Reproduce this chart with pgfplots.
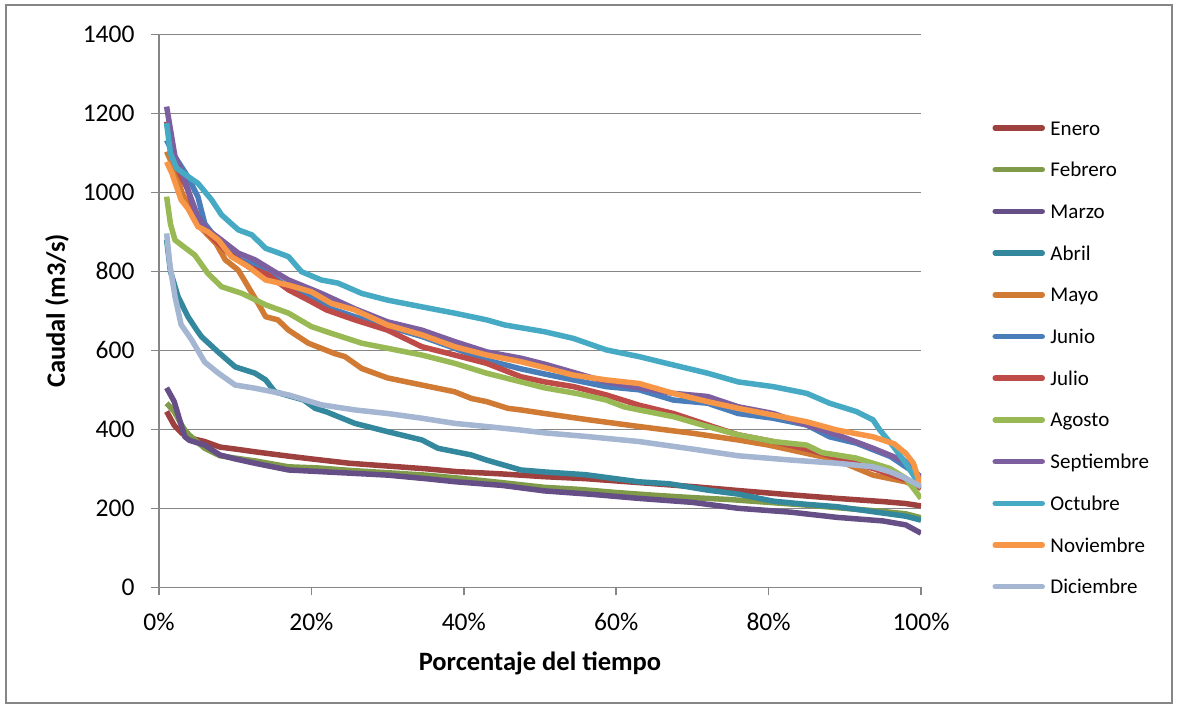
\documentclass[border=0pt]{standalone}
\usepackage{fontspec}
\setmainfont{Carlito}
\usepackage{pgfplots}
\pgfplotsset{compat=1.18}
\definecolor{gridgray}{HTML}{868686}
\definecolor{cEne}{HTML}{9E413E}
\definecolor{cFeb}{HTML}{7F9A48}
\definecolor{cMar}{HTML}{664E86}
\definecolor{cAbr}{HTML}{33889E}
\definecolor{cMay}{HTML}{D07A33}
\definecolor{cJun}{HTML}{4A7EBB}
\definecolor{cJul}{HTML}{BE4B48}
\definecolor{cAgo}{HTML}{98B954}
\definecolor{cSep}{HTML}{7D5FA0}
\definecolor{cOct}{HTML}{46AAC5}
\definecolor{cNov}{HTML}{F79646}
\definecolor{cDic}{HTML}{A5B6D3}
\begin{document}
\begin{tikzpicture}
\path[use as bounding box] (0,0) rectangle (1177pt,708pt);
\draw[line width=1.2pt, color=gridgray] (6pt,5pt) rectangle (1172pt,703pt);
\begin{axis}[
  at={(159pt,120.7pt)}, anchor=south west,
  scale only axis, width=762pt, height=553pt,
  xmin=0, xmax=100, ymin=0, ymax=1400,
  axis x line*=bottom, axis y line*=left,
  xtick={0,20,40,60,80,100},
  xticklabels={0\%,20\%,40\%,60\%,80\%,100\%},
  ytick={0,200,400,600,800,1000,1200,1400},
  yticklabels={0,200,400,600,800,1000,1200,1400},
  tick align=outside, major tick length=8pt,
  tick style={color=gridgray, line width=1.5pt},
  axis line style={color=gridgray, line width=1.5pt},
  ymajorgrids, major grid style={color=gridgray, line width=1.5pt},
  ticklabel style={font=\fontsize{25.5}{30}\selectfont},
  yticklabel style={xshift=-13pt},
  xticklabel style={yshift=-14pt},
  /pgf/number format/assume math mode=true,
  every axis plot/.append style={line width=5.5pt, line join=round, no markers},
  legend cell align=left,
  legend image code/.code={\draw[#1, line width=5.5pt, line cap=round] (0pt,0pt) -- (47pt,0pt);},
  legend style={at={(1.0938,0.4158)}, anchor=west, draw=none, fill=none,
    inner sep=0pt, outer sep=0pt, font=\fontsize{21}{25}\selectfont,
    row sep=17.7pt, /tikz/column sep=5.5pt,
    nodes={inner sep=0pt, text height=19pt, text depth=5pt}},
]
\addplot[cEne] coordinates {(1,445)(2,410)(3,390)(4,378)(6,369)(8,355)(10,350)(12.6,343)(17,332)(20,325)(25,314)(30,307)(35,300)(39,293)(45,287)(50.6,280)(56,275)(63,265)(70,255)(76,245)(83,234)(89,225)(95,217)(98,212)(100,206)};
\addlegendentry{Enero}
\addplot[cFeb] coordinates {(1,466)(2,445)(3,410)(3.4,398)(4,385)(6,352)(8,333)(10,327)(12.6,320)(17,305)(21,302)(25,296)(30,290)(35,284)(39,277)(45,265)(50.6,253)(55,248)(60,240)(65,233)(70,227)(75,222)(80,215)(85,208)(90,200)(95,192)(98,186)(100,176)};
\addlegendentry{Febrero}
\addplot[cMar] coordinates {(1,505)(2,470)(3,405)(3.4,381)(4,372)(6,360)(8,335)(10,325)(12.6,314)(17,297)(21,293)(25,289)(30,284)(35,275)(39,267)(45,258)(50.6,244)(57,235)(63,225)(70,215)(76,200)(83,190)(89,177)(95,168)(98,158)(100,137)};
\addlegendentry{Marzo}
\addplot[cAbr] coordinates {(1,880)(1.5,800)(2.5,736)(3.8,685)(5,650)(5.6,634)(7.8,595)(10,558)(12.6,542)(14,525)(15.2,495)(19,474)(20.5,453)(22,444)(25.7,415)(30,394)(34.5,373)(36.6,352)(41,335)(43,322)(47.5,297)(50.6,292)(56,285)(63,267)(67,262)(72,246)(76,236)(80.6,218)(85,210)(89,204)(95,188)(98,180)(100,170)};
\addlegendentry{Abril}
\addplot[cMay] coordinates {(1,1103)(2,1060)(3,1000)(4,960)(5,920)(6,900)(7.5,870)(8.7,829)(10.4,803)(11.7,761)(13,719)(14,685)(15.6,677)(17,651)(19.6,618)(23,592)(24.4,584)(26.6,554)(30,530)(34.5,512)(38.8,495)(41,478)(43,470)(45.8,453)(47.5,449)(50.6,440)(56,425)(63,407)(70,390)(76,373)(80,360)(85,339)(89,322)(93.7,284)(98,267)(100,251)};
\addlegendentry{Mayo}
\addplot[cJun] coordinates {(1,1132)(2.1,1090)(3.8,1039)(5.1,989)(6,921)(7.3,888)(9,860)(10.5,830)(12.6,815)(15,785)(17,760)(20,735)(22.6,705)(25.7,685)(30,660)(34.5,635)(38.8,605)(43,575)(47.5,553)(50.6,540)(54.4,525)(58.7,508)(63,500)(67.5,474)(72,466)(76,440)(80.6,428)(85,411)(88,381)(91.5,365)(96,331)(98,305)(100,280)};
\addlegendentry{Junio}
\addplot[cJul] coordinates {(1,1179)(1.5,1120)(2.5,1056)(3.8,1006)(5.1,921)(6.9,888)(9.1,846)(11.7,812)(14.3,791)(17,753)(19.6,727)(22,702)(25.7,677)(30,651)(34.5,609)(38.8,588)(43,567)(47.5,533)(50.6,520)(54.4,508)(58.7,487)(63,461)(67.5,440)(72,411)(76,386)(80.6,369)(85,350)(89,327)(93.7,301)(98,272)(100,251)};
\addlegendentry{Julio}
\addplot[cAgo] coordinates {(1,989)(1.5,920)(2.1,879)(4.7,841)(6.4,795)(8.2,761)(10.9,744)(14,715)(17,694)(20,660)(22.6,643)(26.6,618)(30,605)(34.5,588)(38.8,567)(43,542)(47.5,520)(50.6,505)(55,490)(58.7,474)(61,457)(63,449)(67.5,432)(72,407)(76,386)(80.6,369)(85,360)(87,341)(91.5,327)(95.9,301)(98,276)(100,225)};
\addlegendentry{Agosto}
\addplot[cSep] coordinates {(1,1217)(2.1,1090)(2.9,1057)(3.8,1006)(5.1,938)(6.4,905)(8.2,879)(10.4,846)(12.6,829)(14.8,803)(17,778)(21.3,744)(25.7,705)(30,672)(34.5,651)(38.8,622)(43,596)(47.5,580)(50.6,565)(58.7,520)(63,505)(67.5,491)(72,483)(76,457)(80.6,440)(85,411)(89,386)(93.7,352)(98,318)(100,276)};
\addlegendentry{Septiembre}
\addplot[cOct] coordinates {(1,1175)(1.5,1099)(2.3,1061)(3.8,1040)(5.1,1023)(6.9,981)(8.2,943)(10.4,905)(12.2,892)(14,858)(15.2,850)(17,837)(18.7,799)(21.3,778)(23.5,770)(26.6,744)(30,727)(34.5,710)(38.8,694)(43,677)(45.4,664)(50.6,647)(54.4,630)(58.7,601)(63,584)(66.6,567)(72,542)(76,520)(80.6,508)(85,491)(88,466)(91.5,445)(93.7,424)(94.6,398)(96.4,356)(98,314)(100,254)};
\addlegendentry{Octubre}
\addplot[cNov] coordinates {(1,1077)(1.7,1048)(2.9,981)(3.8,959)(5.1,913)(6.4,900)(7.8,879)(9.5,837)(11.7,812)(14,778)(17,765)(20,748)(22.6,719)(25.7,702)(30,664)(34.5,639)(38.8,609)(43,588)(47.5,571)(50.6,556)(54.4,537)(58.7,525)(63,516)(67.5,491)(72,470)(76,453)(80.6,436)(85,419)(89,398)(93.7,381)(96.5,363)(98,339)(99,314)(100,255)};
\addlegendentry{Noviembre}
\addplot[cDic] coordinates {(1,896)(1.4,820)(2.1,736)(2.9,665)(4.3,626)(6,570)(7.8,542)(10,512)(12.6,504)(17,487)(21.3,462)(25.7,449)(30,440)(34.5,428)(38.8,415)(43,407)(47.5,398)(50.6,391)(56,382)(63,369)(70,350)(76,333)(83,322)(89,314)(93.7,305)(96,292)(98,276)(100,255)};
\addlegendentry{Diciembre}
\end{axis}
\node[font=\bfseries\fontsize{26.5}{31}\selectfont] at (540pt,45pt) {Porcentaje del tiempo};
\node[font=\bfseries\fontsize{26.5}{31}\selectfont, rotate=90] at (57pt,397pt) {Caudal (m3/s)};
\end{tikzpicture}
\end{document}
